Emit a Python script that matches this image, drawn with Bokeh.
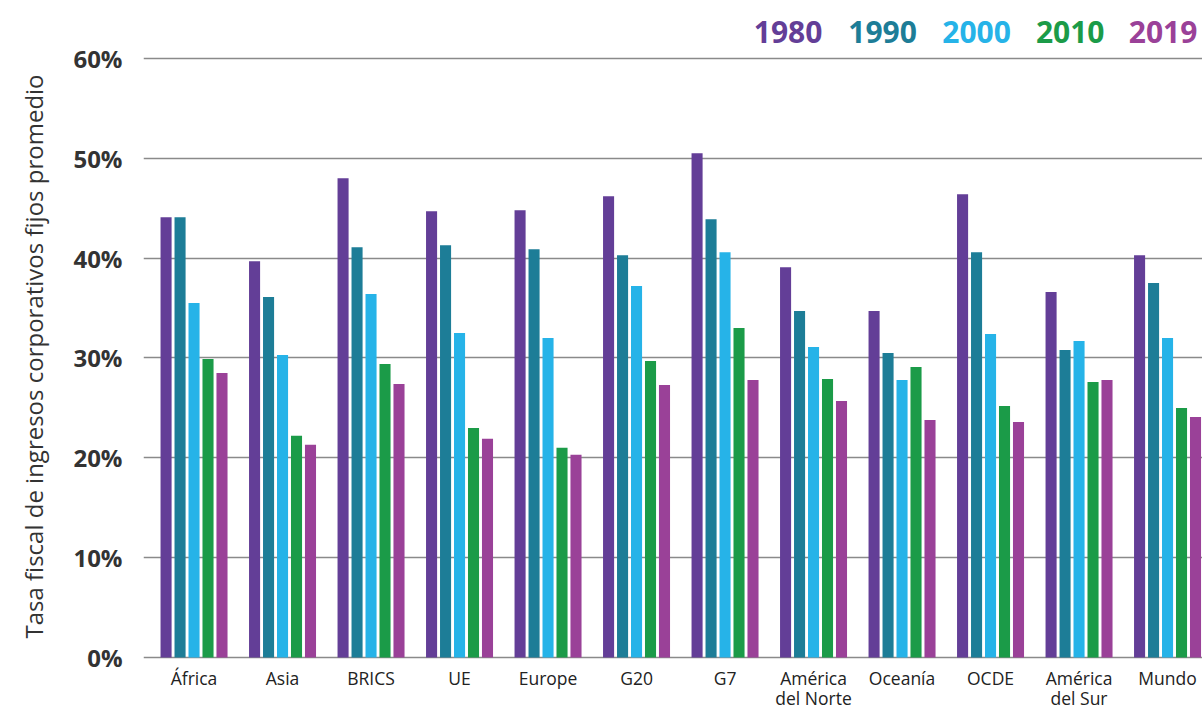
from bokeh.plotting import figure
from bokeh.models import ColumnDataSource, Range1d, FixedTicker
from bokeh.transform import dodge
from bokeh.core.properties import value
from bokeh.embed import file_html
from bokeh.resources import INLINE

categories = ["África", "Asia", "BRICS", "UE", "Europe", "G20", "G7",
              "América del Norte", "Oceanía", "OCDE", "América del Sur", "Mundo"]
cat_labels = ["África", "Asia", "BRICS", "UE", "Europe", "G20", "G7",
              "América\ndel Norte", "Oceanía", "OCDE", "América\ndel Sur", "Mundo"]
years = ["1980", "1990", "2000", "2010", "2019"]
v1980 = [44.1, 39.7, 48.0, 44.7, 44.8, 46.2, 50.5, 39.1, 34.7, 46.4, 36.6, 40.3]
v1990 = [44.1, 36.1, 41.1, 41.3, 40.9, 40.3, 43.9, 34.7, 30.5, 40.6, 30.8, 37.5]
v2000 = [35.5, 30.3, 36.4, 32.5, 32.0, 37.2, 40.6, 31.1, 27.8, 32.4, 31.7, 32.0]
v2010 = [29.9, 22.2, 29.4, 23.0, 21.0, 29.7, 33.0, 27.9, 29.1, 25.2, 27.6, 25.0]
v2019 = [28.5, 21.3, 27.4, 21.9, 20.3, 27.3, 27.8, 25.7, 23.8, 23.6, 27.8, 24.1]
colors = ["#633e97", "#1d7d97", "#26b3e8", "#1b9b48", "#9a4198"]
y_ticks = [0, 10, 20, 30, 40, 50, 60]

idx = list(range(len(categories)))
src = ColumnDataSource(dict(x=idx, cat=categories, lab=cat_labels,
                            y1980=v1980, y1990=v1990, y2000=v2000,
                            y2010=v2010, y2019=v2019))

p = figure(width=1202, height=712, output_backend="svg", toolbar_location=None,
           x_range=Range1d(-0.571, 11.395), y_range=Range1d(-5.51, 65.81),
           min_border_left=143, min_border_right=0, min_border_top=0,
           min_border_bottom=0)
p.outline_line_color = None
p.background_fill_color = "white"
p.border_fill_color = "white"

pitch = 0.158
bw = 0.125
for k, (yr, col) in enumerate(zip(years, colors)):
    off = (k - 2) * pitch
    p.vbar(x=dodge("x", off), top="y" + yr, bottom=0, width=bw,
           source=src, fill_color=col, line_color=None)

# axes
p.xaxis.visible = False
yax = p.yaxis[0]
yax.ticker = FixedTicker(ticks=y_ticks)
yax.major_label_overrides = {t: f"{t}%" for t in y_ticks}
yax.axis_line_color = None
yax.major_tick_line_color = None
yax.minor_tick_line_color = None
yax.major_label_standoff = 15
yax.major_label_text_font = "Open Sans"
yax.major_label_text_font_style = "bold"
yax.major_label_text_font_size = "24px"
yax.major_label_text_color = "#333333"
yax.axis_label = "Tasa fiscal de ingresos corporativos fijos promedio"
yax.axis_label_text_font = "Open Sans"
yax.axis_label_text_font_style = "normal"
yax.axis_label_text_font_size = "24px"
yax.axis_label_text_color = "#333333"
yax.axis_label_standoff = 20

p.xgrid.visible = False
p.ygrid.ticker = FixedTicker(ticks=y_ticks)
p.ygrid.grid_line_color = "#8a8a8a"
p.ygrid.grid_line_width = 1.3

# category labels
p.text(x="x", y=-0.85, text="lab", source=src, text_align="center",
       text_baseline="top", text_font=value("Open Sans"),
       text_font_size="17.5px", text_color="#222222", text_line_height=0.85)

# legend texts
leg_x = [6.712, 7.78, 8.842, 9.90, 10.949]
src_leg = ColumnDataSource(dict(x=leg_x, y=[62.61] * 5, t=years, c=colors))
p.text(x="x", y="y", text="t", text_color="c", source=src_leg,
       text_align="center", text_baseline="middle",
       text_font=value("Open Sans"), text_font_style="bold",
       text_font_size="30px")

open("out.html", "w").write(file_html(p, INLINE))
